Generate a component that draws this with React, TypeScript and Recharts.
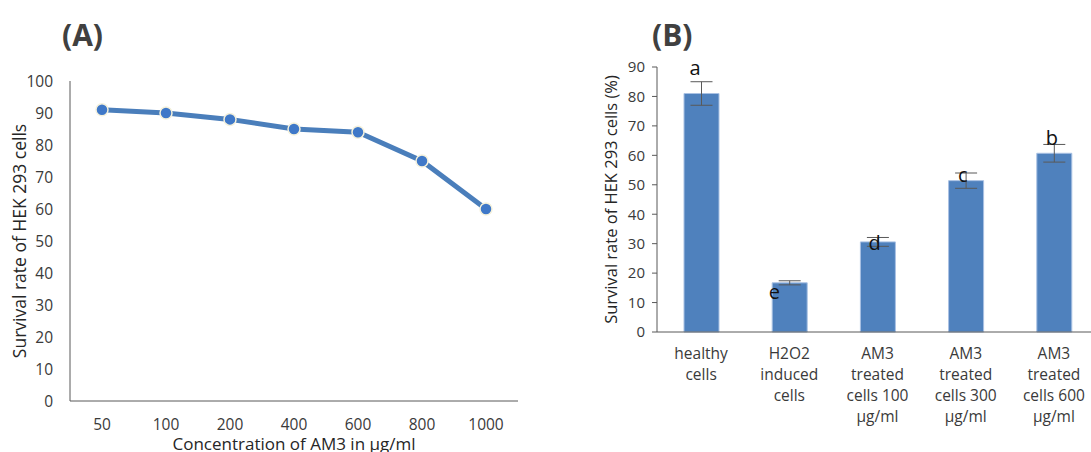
import { LineChart, Line, XAxis, YAxis, Label, ComposedChart, Bar, ErrorBar, Scatter } from "recharts";

// Panel A: survival vs AM3 concentration
const concentrations = ["50", "100", "200", "400", "600", "800", "1000"];
const survivalByDose = [91, 90, 88, 85, 84, 75, 60];
const doseTicks = [0, 10, 20, 30, 40, 50, 60, 70, 80, 90, 100];

// Panel B: survival per treatment group
const groupNames = [
  "healthy cells",
  "H2O2 induced cells",
  "AM3 treated cells 100 μg/ml",
  "AM3 treated cells 300 μg/ml",
  "AM3 treated cells 600 μg/ml",
];
const groupTickLines = [
  ["healthy", "cells"],
  ["H2O2", "induced", "cells"],
  ["AM3", "treated", "cells 100", "μg/ml"],
  ["AM3", "treated", "cells 300", "μg/ml"],
  ["AM3", "treated", "cells 600", "μg/ml"],
];
const survivalByGroup = [81, 16.7, 30.6, 51.4, 60.7];
const survivalError = [4, 0.7, 1.5, 2.6, 3];
const groupLetters = ["a", "e", "d", "c", "b"];
const letterHeights = [87.4, 11.3, 28, 50.8, 63.6];
const groupTicks = [0, 10, 20, 30, 40, 50, 60, 70, 80, 90];

const lineData = concentrations.map((dose, i) => ({ dose, survival: survivalByDose[i] }));
const barData = groupNames.map((group, i) => ({
  group,
  survival: survivalByGroup[i],
  err: survivalError[i],
  letter: groupLetters[i],
  letterY: letterHeights[i],
}));

const axisColor = "#595959";
const tickColor = "#3a3a3a";

const GroupTick = (props: any) => {
  const { x, y, index } = props;
  const lines = groupTickLines[index] || [];
  return (
    <text x={x} y={y} textAnchor="middle" fill={tickColor} fontSize={15.5}>
      {lines.map((line, i) => (
        <tspan key={i} x={x} dy={i === 0 ? "0.71em" : 21}>
          {line}
        </tspan>
      ))}
    </text>
  );
};

// letters sit slightly left of the bar centre in the original
const letterShift: Record<string, number> = { a: -6, e: -15, d: -3, c: -3, b: -2 };

const LetterMark = (props: any) => {
  const { cx, cy, payload } = props;
  return (
    <text x={cx + (letterShift[payload.letter] || 0)} y={cy} textAnchor="middle" fontSize={20} fill="#111">
      {payload.letter}
    </text>
  );
};

export default function App() {
  return (
    <div
      style={{
        position: "absolute",
        left: 0,
        top: 0,
        width: 1091,
        height: 452,
        overflow: "hidden",
        background: "#fff",
        fontFamily: "'Open Sans', sans-serif",
      }}
    >
      <svg width={1091} height={60} style={{ position: "absolute", left: 0, top: 0 }}>
        <text x={62} y={46} fontSize={30} fontWeight={700} fill="#404040">(A)</text>
        <text x={652} y={46} fontSize={30} fontWeight={700} fill="#404040">(B)</text>
      </svg>

      {/* Panel A */}
      <div style={{ position: "absolute", left: 0, top: 0 }}>
        <LineChart width={540} height={452} data={lineData} margin={{ top: 81, right: 22, bottom: 0, left: 0 }}>
          <XAxis
            dataKey="dose"
            height={51}
            padding={{ left: 32, right: 32 }}
            axisLine={{ stroke: axisColor }}
            tickLine={false}
            tick={{ fill: tickColor, fontSize: 15.5 }}
            tickMargin={12}
          >
            <Label
              value="Concentration of AM3 in μg/ml"
              position="bottom"
              offset={-14}
              style={{ fontSize: 17, fill: "#262626" }}
            />
          </XAxis>
          <YAxis
            width={70}
            domain={[0, 100]}
            ticks={doseTicks}
            interval={0}
            axisLine={{ stroke: axisColor }}
            tickLine={false}
            tick={{ fill: tickColor, fontSize: 15.5 }}
            tickMargin={11}
          >
            <Label
              value="Survival rate of HEK 293 cells"
              angle={-90}
              position="insideLeft"
              offset={20}
              style={{ fontSize: 17.5, fill: "#262626", textAnchor: "middle" }}
            />
          </YAxis>
          <Line
            dataKey="survival"
            stroke="#4a7ebb"
            strokeWidth={5}
            dot={{ r: 6, fill: "#3f78c8", stroke: "#f4f1dc", strokeWidth: 1.5 }}
            activeDot={false}
            isAnimationActive={false}
          />
        </LineChart>
      </div>

      {/* Panel B */}
      <div style={{ position: "absolute", left: 590, top: 0 }}>
        <ComposedChart width={508} height={452} data={barData} margin={{ top: 67, right: 0, bottom: 0, left: 0 }}>
          <XAxis
            dataKey="group"
            height={120}
            axisLine={{ stroke: axisColor }}
            tickLine={false}
            interval={0}
            tickMargin={10}
            tick={<GroupTick />}
          />
          <YAxis
            width={67}
            domain={[0, 90]}
            ticks={groupTicks}
            interval={0}
            axisLine={{ stroke: axisColor }}
            tickLine={{ stroke: axisColor }}
            tickSize={5}
            tickMargin={7}
            tick={{ fill: tickColor, fontSize: 15 }}
          >
            <Label
              value="Survival rate of HEK 293 cells (%)"
              angle={-90}
              position="insideLeft"
              offset={21}
              style={{ fontSize: 16.5, fill: "#262626", textAnchor: "middle" }}
            />
          </YAxis>
          <Bar dataKey="survival" fill="#4f81bd" stroke="#a9c1e3" strokeWidth={1} barSize={35} isAnimationActive={false}>
            <ErrorBar dataKey="err" width={11} stroke={axisColor} strokeWidth={1} />
          </Bar>
          <Scatter dataKey="letterY" shape={<LetterMark />} isAnimationActive={false} />
        </ComposedChart>
      </div>
    </div>
  );
}
